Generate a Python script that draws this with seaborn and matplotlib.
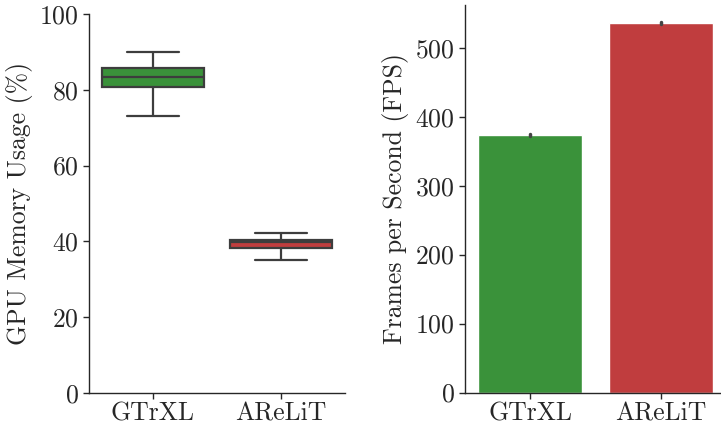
import matplotlib
matplotlib.use("Agg")
import matplotlib.pyplot as plt
import seaborn as sns
import pandas as pd

# ---- data ----
models = ["GTrXL", "AReLiT"]
palette_colors = ["tab:green", "tab:red"]

# GPU memory usage samples (%) -> box stats
gtrxl_mem = [73.2, 80.7, 83.3, 85.8, 90.0]
arelit_mem = [35.1, 38.2, 39.8, 40.3, 42.1]

# Frames per second samples
gtrxl_fps = [371.5, 373.0, 374.5]
arelit_fps = [534.5, 536.0, 537.5]

mem_ticks = [0, 20, 40, 60, 80, 100]
fps_ticks = [0, 100, 200, 300, 400, 500]

sns.set_style("ticks")
plt.rcParams["font.family"] = ["cmr10", "DejaVu Serif"]
plt.rcParams["axes.formatter.use_mathtext"] = True
FS = 18.5
plt.rcParams["font.size"] = FS

mem_df = pd.DataFrame({
    "model": [models[0]] * len(gtrxl_mem) + [models[1]] * len(arelit_mem),
    "mem": gtrxl_mem + arelit_mem,
})
fps_df = pd.DataFrame({
    "model": [models[0]] * len(gtrxl_fps) + [models[1]] * len(arelit_fps),
    "fps": gtrxl_fps + arelit_fps,
})

W, H = 721, 425
fig = plt.figure(figsize=(W / 100, H / 100), dpi=100)

def ax_rect(x0, y0, x1, y1):
    return [x0 / W, 1 - y1 / H, (x1 - x0) / W, (y1 - y0) / H]

ax1 = fig.add_axes(ax_rect(89, 14, 345, 393))
ax2 = fig.add_axes(ax_rect(465, 5, 726, 392.5))

sns.boxplot(data=mem_df, x="model", y="mem", hue="model", order=models,
            palette=palette_colors, ax=ax1, legend=False, linewidth=1.6)
ax1.set_ylim(0, 100)
ax1.set_yticks(mem_ticks)
ax1.set_xlabel("")
ax1.set_ylabel("GPU Memory Usage (%)", fontsize=FS)

sns.barplot(data=fps_df, x="model", y="fps", hue="model", order=models,
            palette=palette_colors, ax=ax2, legend=False, errorbar="sd",
            err_kws={"color": "#444444", "linewidth": 2.5})
ax2.set_ylim(0, 562)
ax2.set_yticks(fps_ticks)
ax2.set_xlabel("")
ax2.set_ylabel("Frames per Second (FPS)", fontsize=FS)

for ax in (ax1, ax2):
    sns.despine(ax=ax)
    ax.tick_params(labelsize=FS, length=4, width=1, color="#262626")
    ax.tick_params(axis="x", pad=2.5)
    for s in ("left", "bottom"):
        ax.spines[s].set_linewidth(1.0)
        ax.spines[s].set_color("#262626")

fig.savefig("out.png", dpi=100)
